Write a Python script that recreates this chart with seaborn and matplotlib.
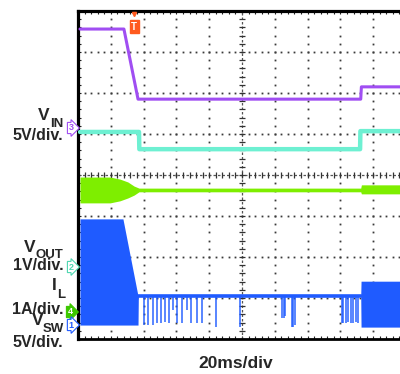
import numpy as np
import matplotlib
matplotlib.use("Agg")
import matplotlib.pyplot as plt
import seaborn as sns

# ---------------- data (x in time divisions, 20 ms/div; y in screen divisions) ----
vin_t = [0.06, 1.40, 1.83, 8.62, 8.64, 10.0]
vin_y = [3.56, 3.56, 1.85, 1.85, 2.15, 2.15]

vout_t = [0.06, 1.86, 1.87, 8.60, 8.61, 10.0]
vout_y = [1.05, 1.05, 0.63, 0.63, 1.07, 1.07]

il_t = [0.06, 0.98, 1.28, 1.52, 1.71, 1.86, 8.62, 8.64, 10.0]
il_top = [-0.05, -0.05, -0.10, -0.17, -0.27, -0.32, -0.32, -0.24, -0.24]
il_bot = [-0.68, -0.68, -0.63, -0.56, -0.49, -0.41, -0.41, -0.46, -0.46]

vsw_t = [0.06, 1.37, 1.83, 1.84, 8.62, 8.63, 10.0]
vsw_top = [-1.07, -1.07, -2.95, -2.95, -2.95, -2.59, -2.59]
vsw_bot = [-3.66, -3.66, -3.66, -2.95, -2.95, -3.71, -3.71]
vsw_level = -2.95

spike_t = [2.01, 2.13, 2.29, 2.41, 2.53, 2.65, 2.77, 2.90, 3.02, 3.17, 3.32, 3.45,
           3.63, 3.78, 4.21, 4.94, 6.22, 6.27, 6.31, 6.52, 6.57, 6.62,
           8.05, 8.08, 8.17, 8.23, 8.32, 8.38, 8.48, 8.54]
spike_y = [-3.66, -3.66, -3.66, -3.61, -3.61, -3.58, -3.61, -3.29, -3.61, -3.61, -3.29, -3.61,
           -3.61, -3.61, -3.71, -3.71, -3.49, -3.49, -3.45, -3.71, -3.71, -3.66,
           -3.61, -3.61, -3.61, -3.58, -3.61, -3.61, -3.58, -3.61]

trigger_t = 1.71

C_PURPLE = "#A04EF2"
C_CYAN = "#6EF0D2"
C_GREEN = "#7EEE00"
C_BLUE = "#1F5BFF"
C_TRIG = "#FF5A1E"

# ---------------- figure ----------------
sns.set_style("white")
plt.rcParams["font.family"] = ["Liberation Sans", "DejaVu Sans"]

W, H = 400, 374
fig = plt.figure(figsize=(W / 100, H / 100), dpi=100)
ax = fig.add_axes([78 / W, 1 - 339 / H, (406 - 78) / W, (339 - 11) / H])
ax.set_xlim(0, 10)
ax.set_ylim(-4, 4)

# graticule
gx = np.arange(0, 10.001, 0.2)
gy = np.arange(-4, 4.001, 0.2)
for yv in [-3, -2, -1, 1, 2, 3]:
    ax.plot(gx, np.full_like(gx, yv), ls="none", marker="s", ms=1.3, mew=0,
            color="#3a3a3a", zorder=1)
for xv in [1, 2, 3, 4, 6, 7, 8, 9]:
    ax.plot(np.full_like(gy, xv), gy, ls="none", marker="s", ms=1.3, mew=0,
            color="#3a3a3a", zorder=1)
ax.plot([0, 10], [0, 0], color="#555555", lw=0.9, dashes=(2, 1.6), zorder=1)
ax.plot([5, 5], [-4, 4], color="#555555", lw=0.9, dashes=(2, 1.6), zorder=1)
ax.plot(gx, np.zeros_like(gx), ls="none", marker="|", ms=4, mew=0.9, color="#333333", zorder=1)
ax.plot(np.full_like(gy, 5), gy, ls="none", marker="_", ms=4, mew=0.9, color="#333333", zorder=1)

# traces
ax.fill_between(il_t, il_bot, il_top, color=C_GREEN, lw=0, zorder=3)
ax.fill_between(vsw_t, vsw_bot, vsw_top, color=C_BLUE, lw=0, zorder=3)
ax.vlines(spike_t, vsw_level, spike_y, color=C_BLUE, lw=1.3, alpha=0.8, zorder=3)
sns.lineplot(x=[1.84, 8.62], y=[vsw_level, vsw_level], ax=ax, color=C_BLUE, lw=2.6,
             estimator=None, sort=False, zorder=3)
sns.lineplot(x=vout_t, y=vout_y, ax=ax, color=C_CYAN, lw=3.2, estimator=None, sort=False, zorder=4)
sns.lineplot(x=vin_t, y=vin_y, ax=ax, color=C_PURPLE, lw=2.2, estimator=None, sort=False, zorder=4)

# trigger marker
ax.text(trigger_t, 3.62, "T", color="white", fontsize=7, fontweight="bold", ha="center",
        va="center", zorder=6,
        bbox=dict(boxstyle="square,pad=0.15", fc=C_TRIG, ec=C_TRIG))
ax.plot([trigger_t], [3.93], marker="v", ms=3, color=C_TRIG, zorder=6, clip_on=False)

# frame
for s in ["top", "left"]:
    ax.spines[s].set_linewidth(2.3)
    ax.spines[s].set_color("black")
ax.spines["bottom"].set_linewidth(2.0)
ax.spines["bottom"].set_color("black")
ax.spines["right"].set_visible(False)
ax.set_xticks(np.arange(0, 10.001, 0.2))
ax.set_yticks(np.arange(-4, 4.001, 0.2))
ax.tick_params(axis="both", which="both", direction="in", length=2.5, width=0.8,
               color="#222222", top=True, bottom=True, left=True, right=False,
               labelbottom=False, labelleft=False)
ax.set_xlabel("")
ax.set_ylabel("")

# ---------------- labels (pixel positions) ----------------
def ftext(x, y, s, size, **kw):
    fig.text(x / W, 1 - y / H, s, fontsize=size, va="baseline", fontweight="bold", **kw)

BIG, VBIG, SUB = 11.5, 12.5, 9.5
ftext(50, 120, "V", VBIG, ha="right")
ftext(50, 127, "IN", SUB, ha="left")
ftext(63.5, 140, "5V/div.", BIG, ha="right")

ftext(35.5, 252, "V", VBIG, ha="right")
ftext(35, 258, "OUT", SUB, ha="left")
ftext(63.5, 270, "1V/div.", BIG, ha="right")

ftext(57, 290, "I", VBIG, ha="right")
ftext(57, 298, "L", SUB, ha="left")
ftext(63.5, 314, "1A/div.", BIG, ha="right")

ftext(43.5, 325, "V", VBIG, ha="right")
ftext(43, 332, "SW", SUB, ha="left")
ftext(63.5, 347, "5V/div.", BIG, ha="right")

fig.text(236 / W, 1 - 364 / H, "20ms/div", fontsize=12.5, fontweight="bold",
         ha="center", va="center")

# channel markers
def marker(x, y, s, col, filled=False):
    fig.text(x / W, 1 - y / H, s, fontsize=6.5, ha="center", va="center",
             color="white" if filled else col, fontweight="bold",
             bbox=dict(boxstyle="rarrow,pad=0.12", fc=col if filled else "white",
                       ec=col, lw=0.8))

marker(71, 128, "3", C_PURPLE)
marker(71, 267, "2", "#4FD6B0")
marker(70, 312, "4", "#3CC800", filled=True)
marker(71, 325, "1", C_BLUE)

fig.savefig("out.png", dpi=100)
